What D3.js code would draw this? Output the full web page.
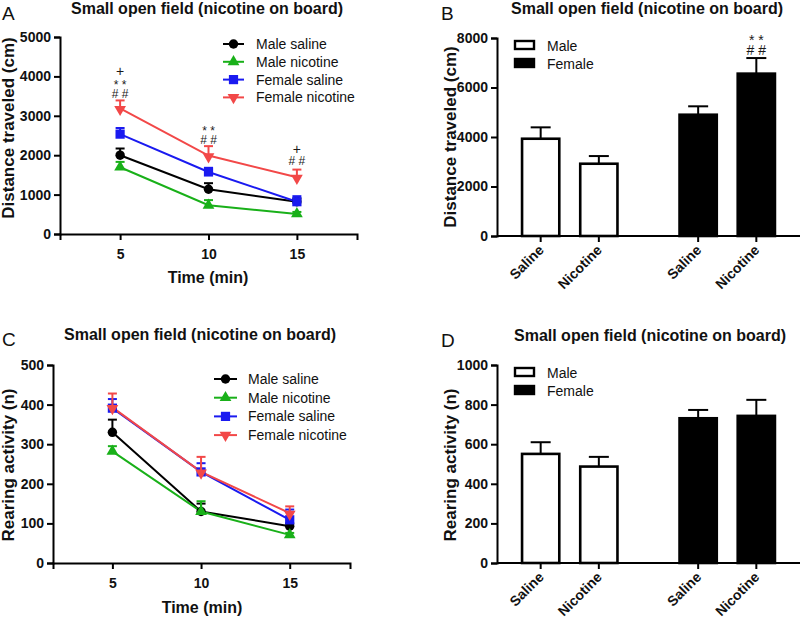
<!DOCTYPE html>
<html>
<head>
<meta charset="utf-8">
<script src="https://cdn.jsdelivr.net/npm/d3@7"></script>
<style>
  html, body { margin: 0; padding: 0; background: #fff; }
  svg { display: block; font-family: "Liberation Sans", Arial, sans-serif; }
</style>
</head>
<body>
<svg id="chart" width="800" height="623"></svg>
<script>
// ---------------- DATA ----------------
const timePoints = [5, 10, 15];
const seriesNames = ["Male saline", "Male nicotine", "Female saline", "Female nicotine"];

// Panel A: distance traveled (cm), mean and SEM
const distMaleSaline = [2000, 1135, 820];
const distMaleSalineErr = [170, 155, 80];
const distMaleNicotine = [1695, 730, 510];
const distMaleNicotineErr = [135, 130, 50];
const distFemaleSaline = [2535, 1575, 820];
const distFemaleSalineErr = [155, 105, 140];
const distFemaleNicotine = [3190, 1990, 1440];
const distFemaleNicotineErr = [200, 240, 195];

// Panel C: rearing activity (n)
const rearMaleSaline = [330, 130, 93];
const rearMaleSalineErr = [32, 20, 7];
const rearMaleNicotine = [282, 130, 71];
const rearMaleNicotineErr = [13, 26, 5];
const rearFemaleSaline = [391, 230, 109];
const rearFemaleSalineErr = [23, 22, 26];
const rearFemaleNicotine = [393, 230, 126];
const rearFemaleNicotineErr = [35, 38, 17];

// Panels B & D: totals
const sexGroups = ["Male", "Female"];
const treatments = ["Saline", "Nicotine"];
const totalDistMale = [3930, 2920];
const totalDistMaleErr = [460, 310];
const totalDistFemale = [4900, 6560];
const totalDistFemaleErr = [340, 630];
const totalRearMale = [551, 487];
const totalRearMaleErr = [59, 49];
const totalRearFemale = [731, 743];
const totalRearFemaleErr = [42, 81];

// Tick values
const distTicks = [0, 1000, 2000, 3000, 4000, 5000];
const rearTicks = [0, 100, 200, 300, 400, 500];
const totalDistTicks = [0, 2000, 4000, 6000, 8000];
const totalRearTicks = [0, 200, 400, 600, 800, 1000];

// Significance annotations
const annotA = [
  { time: 5, labels: ["+", "* *", "# #"] },
  { time: 10, labels: ["* *", "# #"] },
  { time: 15, labels: ["+", "# #"] }
];
const annotB = [{ group: "Female", treatment: "Nicotine", labels: ["* *", "# #"] }];

// ---------------- STYLES ----------------
const seriesColors = ["#000000", "#19b019", "#1a1af0", "#f24848"];
const seriesSymbols = [d3.symbolCircle, d3.symbolTriangle, d3.symbolSquare, d3.symbolTriangle];
const seriesSymbolSize = [70, 60, 85, 60];
const seriesSymbolRot = [0, 0, 0, 180];
const titleText = "Small open field (nicotine on board)";

const svg = d3.select("#chart");
svg.append("rect").attr("width", 800).attr("height", 623).attr("fill", "#fff");

function styleAxis(g) {
  g.selectAll("path.domain").attr("stroke", "#000").attr("stroke-width", 2);
  g.selectAll(".tick line").attr("stroke", "#000").attr("stroke-width", 2);
  g.selectAll(".tick text").attr("font-size", 14).attr("font-weight", "bold").attr("fill", "#111")
    .attr("font-family", "Liberation Sans, Arial, sans-serif");
}

function panelLabels(o) {
  svg.append("text").attr("x", o.letterX).attr("y", o.letterY).attr("font-size", 19)
    .attr("fill", "#111").text(o.letter);
  svg.append("text").attr("x", o.titleX).attr("y", o.titleY).attr("text-anchor", "middle")
    .attr("font-size", 16).attr("font-weight", "bold").attr("fill", "#111").text(titleText);
  svg.append("text").attr("transform", `translate(${o.yTitleX},${o.yTitleY}) rotate(-90)`)
    .attr("text-anchor", "middle").attr("font-size", 17).attr("font-weight", "bold")
    .attr("fill", "#111").text(o.yTitle);
}

function annotText(x, y, lab, size) {
  const isPlus = lab === "+";
  svg.append("text").attr("x", x).attr("y", y).attr("text-anchor", "middle")
    .attr("font-size", isPlus ? size + 2 : size).attr("fill", "#1a1a1a").text(lab);
}

// ---------------- LINE PANELS ----------------
function linePanel(o) {
  const x = d3.scaleLinear().domain(o.xDomain).range([o.x0, o.x1]);
  const y = d3.scaleLinear().domain([0, o.yMax]).range([o.yBottom, o.yTop]);

  const yAxis = svg.append("g").attr("transform", `translate(${o.x0},0)`)
    .call(d3.axisLeft(y).tickValues(o.yTicks).tickSizeOuter(0).tickSize(6).tickPadding(3).tickFormat(d3.format("d")));
  styleAxis(yAxis);
  const xAxis = svg.append("g").attr("transform", `translate(0,${o.yBottom})`)
    .call(d3.axisBottom(x).tickValues(timePoints).tickSizeOuter(0).tickSize(6).tickPadding(9));
  styleAxis(xAxis);

  svg.append("text").attr("x", o.xTitleX).attr("y", o.xTitleY).attr("text-anchor", "middle")
    .attr("font-size", 16).attr("font-weight", "bold").attr("fill", "#111").text("Time (min)");
  panelLabels(o);

  const line = d3.line().x((d, i) => x(timePoints[i])).y(d => y(d));
  o.series.forEach((s, si) => {
    svg.append("path").datum(s.mean).attr("d", line).attr("fill", "none")
      .attr("stroke", seriesColors[si]).attr("stroke-width", 2);
  });
  o.series.forEach((s, si) => {
    const col = seriesColors[si];
    const g = svg.append("g");
    s.mean.forEach((m, i) => {
      const cx = x(timePoints[i]), top = y(m + s.err[i]);
      g.append("line").attr("x1", cx).attr("x2", cx).attr("y1", y(m)).attr("y2", top)
        .attr("stroke", col).attr("stroke-width", 2);
      g.append("line").attr("x1", cx - 4.5).attr("x2", cx + 4.5).attr("y1", top).attr("y2", top)
        .attr("stroke", col).attr("stroke-width", 2);
    });
    s.mean.forEach((m, i) => {
      g.append("path")
        .attr("d", d3.symbol().type(seriesSymbols[si]).size(seriesSymbolSize[si])())
        .attr("transform", `translate(${x(timePoints[i])},${y(m) + (seriesSymbolRot[si] ? 1 : 0)}) rotate(${seriesSymbolRot[si]})`)
        .attr("fill", col);
    });
  });

  // legend
  seriesNames.forEach((name, si) => {
    const ly = o.legY + si * o.legStep;
    svg.append("line").attr("x1", o.legX0).attr("x2", o.legX1).attr("y1", ly).attr("y2", ly)
      .attr("stroke", seriesColors[si]).attr("stroke-width", 2);
    svg.append("path")
      .attr("d", d3.symbol().type(seriesSymbols[si]).size(seriesSymbolSize[si])())
      .attr("transform", `translate(${(o.legX0 + o.legX1) / 2},${ly}) rotate(${seriesSymbolRot[si]})`)
      .attr("fill", seriesColors[si]);
    svg.append("text").attr("x", o.legTextX).attr("y", ly + 5).attr("font-size", 14)
      .attr("fill", "#111").text(name);
  });

  if (o.annot) {
    o.annot.forEach(a => {
      const n = a.labels.length;
      a.labels.forEach((lab, k) => {
        const fromBottom = n - 1 - k;
        const isStar = lab.indexOf("*") >= 0;
        const base = o.annotBase[timePoints.indexOf(a.time)] - fromBottom * 11 + (isStar ? 2.5 : 0);
        annotText(x(a.time), base, lab, 12);
      });
    });
  }
}

linePanel({
  letter: "A", letterX: 2, letterY: 20, titleX: 207, titleY: 14,
  yTitle: "Distance traveled (cm)", yTitleX: 14, yTitleY: 128,
  xDomain: [1.6, 18.4], x0: 60, x1: 357, yMax: 5000, yBottom: 234, yTop: 37,
  yTicks: distTicks, xTitleX: 208, xTitleY: 283,
  series: [
    { mean: distMaleSaline, err: distMaleSalineErr },
    { mean: distMaleNicotine, err: distMaleNicotineErr },
    { mean: distFemaleSaline, err: distFemaleSalineErr },
    { mean: distFemaleNicotine, err: distFemaleNicotineErr }
  ],
  legX0: 223, legX1: 244, legTextX: 256, legY: 44, legStep: 17.8,
  annot: annotA, annotBase: [97.5, 143.5, 164.5]
});

linePanel({
  letter: "C", letterX: 2, letterY: 346, titleX: 200, titleY: 340,
  yTitle: "Rearing activity (n)", yTitleX: 14, yTitleY: 465,
  xDomain: [1.65, 18.4], x0: 53, x1: 350, yMax: 500, yBottom: 563, yTop: 365,
  yTicks: rearTicks, xTitleX: 202, xTitleY: 613,
  series: [
    { mean: rearMaleSaline, err: rearMaleSalineErr },
    { mean: rearMaleNicotine, err: rearMaleNicotineErr },
    { mean: rearFemaleSaline, err: rearFemaleSalineErr },
    { mean: rearFemaleNicotine, err: rearFemaleNicotineErr }
  ],
  legX0: 214, legX1: 237, legTextX: 248, legY: 379, legStep: 18.7
});

// ---------------- BAR PANELS ----------------
function barPanel(o) {
  const y = d3.scaleLinear().domain([0, o.yMax]).range([o.yBottom, o.yTop]);
  const xOuter = d3.scaleBand().domain(sexGroups).range([o.x0, o.x1]).paddingInner(0.276).paddingOuter(0.1);
  const xInner = d3.scaleBand().domain(treatments).range([0, xOuter.bandwidth()]).paddingInner(0.36).paddingOuter(0.16);

  panelLabels(o);

  const groupData = {
    Male: { mean: o.male, err: o.maleErr, fill: "#fff" },
    Female: { mean: o.female, err: o.femaleErr, fill: "#000" }
  };

  sexGroups.forEach(gname => {
    const gd = groupData[gname];
    treatments.forEach((t, i) => {
      const bx = xOuter(gname) + xInner(t);
      const bw = xInner.bandwidth();
      const cx = bx + bw / 2;
      const top = y(gd.mean[i]);
      const etop = y(gd.mean[i] + gd.err[i]);
      svg.append("line").attr("x1", cx).attr("x2", cx).attr("y1", top).attr("y2", etop)
        .attr("stroke", "#000").attr("stroke-width", 2);
      svg.append("line").attr("x1", cx - 10).attr("x2", cx + 10).attr("y1", etop).attr("y2", etop)
        .attr("stroke", "#000").attr("stroke-width", 2);
      svg.append("rect").attr("x", bx).attr("y", top).attr("width", bw).attr("height", o.yBottom - top)
        .attr("fill", gd.fill).attr("stroke", "#000").attr("stroke-width", 2.6);
    });
  });

  const yAxis = svg.append("g").attr("transform", `translate(${o.x0},0)`)
    .call(d3.axisLeft(y).tickValues(o.yTicks).tickSizeOuter(0).tickSize(6).tickPadding(3).tickFormat(d3.format("d")));
  styleAxis(yAxis);

  // x axis
  svg.append("line").attr("x1", o.x0).attr("x2", o.x1).attr("y1", o.yBottom).attr("y2", o.yBottom)
    .attr("stroke", "#000").attr("stroke-width", 2);
  sexGroups.forEach(gname => {
    treatments.forEach(t => {
      const cx = xOuter(gname) + xInner(t) + xInner.bandwidth() / 2;
      svg.append("line").attr("x1", cx).attr("x2", cx).attr("y1", o.yBottom).attr("y2", o.yBottom + 6)
        .attr("stroke", "#000").attr("stroke-width", 2);
      svg.append("text").attr("transform", `translate(${cx + 4},${o.yBottom + 15}) rotate(-45)`)
        .attr("text-anchor", "end").attr("font-size", 14).attr("font-weight", "bold")
        .attr("fill", "#111").text(t);
    });
  });

  // legend
  sexGroups.forEach((gname, i) => {
    const ly = o.legY + i * 18;
    svg.append("rect").attr("x", o.legX + 1).attr("y", ly - 4).attr("width", 19).attr("height", 8)
      .attr("fill", groupData[gname].fill).attr("stroke", "#000").attr("stroke-width", 2.4);
    svg.append("text").attr("x", o.legX + 33).attr("y", ly + 5.5).attr("font-size", 14)
      .attr("fill", "#111").text(gname);
  });

  if (o.annot) {
    o.annot.forEach(a => {
      const cx = xOuter(a.group) + xInner(a.treatment) + xInner.bandwidth() / 2;
      a.labels.forEach((lab, k) => {
        const isStar = lab.indexOf("*") >= 0;
        const base = o.annotBase - (a.labels.length - 1 - k) * 13.5 + (isStar ? 3.5 : 0);
        annotText(cx, base, lab, 14);
      });
    });
  }
}

barPanel({
  letter: "B", letterX: 441, letterY: 20, titleX: 647, titleY: 14,
  yTitle: "Distance traveled (cm)", yTitleX: 456, yTitleY: 137,
  x0: 497, x1: 800, yMax: 8000, yBottom: 236, yTop: 38, yTicks: totalDistTicks,
  male: totalDistMale, maleErr: totalDistMaleErr, female: totalDistFemale, femaleErr: totalDistFemaleErr,
  legX: 514, legY: 45, annot: annotB, annotBase: 54.5
});

barPanel({
  letter: "D", letterX: 441, letterY: 347, titleX: 650, titleY: 341,
  yTitle: "Rearing activity (n)", yTitleX: 456, yTitleY: 465,
  x0: 497, x1: 800, yMax: 1000, yBottom: 563, yTop: 365, yTicks: totalRearTicks,
  male: totalRearMale, maleErr: totalRearMaleErr, female: totalRearFemale, femaleErr: totalRearFemaleErr,
  legX: 514, legY: 372
});
</script>
</body>
</html>
